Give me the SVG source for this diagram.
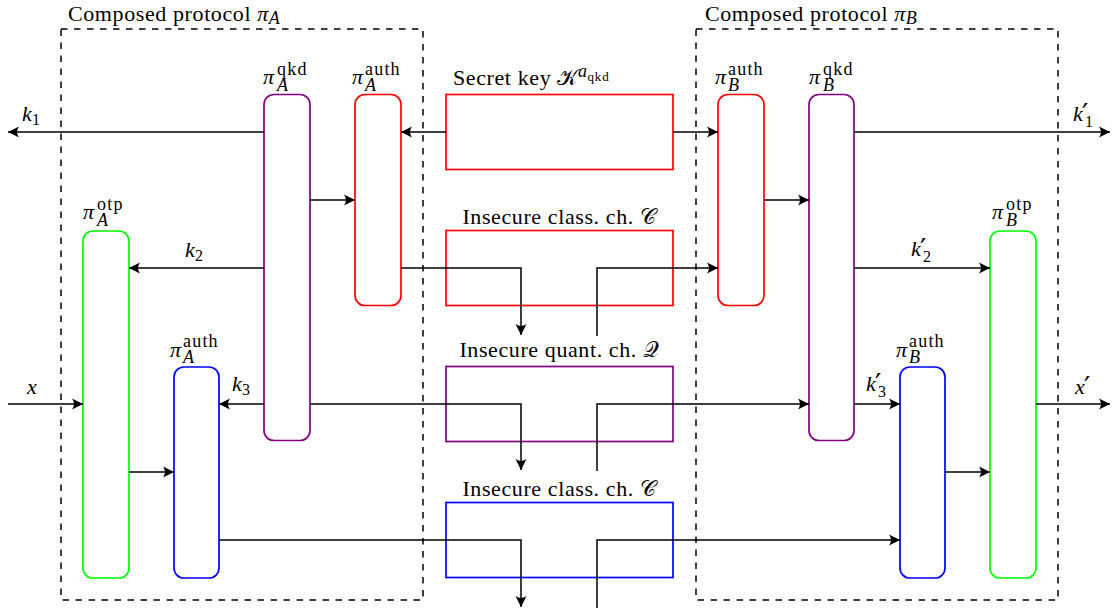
<svg xmlns="http://www.w3.org/2000/svg" width="1112" height="610" viewBox="0 0 1112 610">
<defs>
<style>
text { font-family: "Liberation Serif", "Times New Roman", serif; font-size: 22px; fill: #000; }
.lb { letter-spacing: 0.6px; }
.it { font-style: italic; }
.sc { font-size: 18px; letter-spacing: 1.2px; }
.sa { font-size: 18px; }
.ss { font-size: 16px; }
.pr { font-family: "DejaVu Sans", sans-serif; font-size: 28px; }
.conn { fill: none; stroke: #000; stroke-width: 1.5; }
.dash { fill: none; stroke: #000; stroke-width: 1.5; stroke-dasharray: 6.5 6.5; }
.node { fill: none; stroke-width: 1.7; }
.red { stroke: #ff0000; }
.pur { stroke: #800080; }
.grn { stroke: #00ff00; }
.blu { stroke: #0000ff; }
</style>
<marker id="arr" markerUnits="userSpaceOnUse" markerWidth="14" markerHeight="14" viewBox="-12 -7 13 14" refX="0" refY="0" orient="auto">
<path d="M0,0 L-11,-5.5 Q-7,0 -11,5.5 Z" fill="#000"/>
</marker>
</defs>
<rect width="1112" height="610" fill="#fff"/>

<g id="protocolA">
<rect class="dash" x="61" y="29" width="362" height="571"/>
<text class="lb" x="68" y="21">Composed protocol <tspan class="it">π</tspan><tspan class="it sa" dy="3">A</tspan></text>
</g>
<g id="protocolB">
<rect class="dash" x="696" y="29" width="362" height="571"/>
<text class="lb" x="705" y="21">Composed protocol <tspan class="it">π</tspan><tspan class="it sa" dy="3">B</tspan></text>
</g>

<g id="qkdA">
<rect class="node pur" x="264" y="94.5" width="46" height="346" rx="10"/>
<text class="it" x="263" y="84">π</text><text class="sc" x="277" y="74.5">qkd</text><text class="it sa" x="277" y="90.5">A</text>
</g>
<g id="authA1">
<rect class="node red" x="355" y="94.5" width="46" height="211" rx="10"/>
<text class="it" x="352" y="84">π</text><text class="sc" x="365" y="74.5">auth</text><text class="it sa" x="365" y="90.5">A</text>
</g>
<g id="otpA">
<rect class="node grn" x="83" y="231" width="46" height="347" rx="10"/>
<text class="it" x="83" y="219">π</text><text class="sc" x="97" y="210">otp</text><text class="it sa" x="97" y="226">A</text>
</g>
<g id="authA2">
<rect class="node blu" x="174" y="367" width="45" height="211" rx="10"/>
<text class="it" x="170" y="356.5">π</text><text class="sc" x="183" y="347">auth</text><text class="it sa" x="183" y="363">A</text>
</g>

<g id="authB1">
<rect class="node red" x="718" y="94.5" width="46" height="211" rx="10"/>
<text class="it" x="715" y="84">π</text><text class="sc" x="728" y="74.5">auth</text><text class="it sa" x="728" y="90.5">B</text>
</g>
<g id="qkdB">
<rect class="node pur" x="809" y="94.5" width="45" height="346" rx="10"/>
<text class="it" x="809" y="84">π</text><text class="sc" x="823" y="74.5">qkd</text><text class="it sa" x="823" y="90.5">B</text>
</g>
<g id="otpB">
<rect class="node grn" x="990" y="231" width="46" height="347" rx="10"/>
<text class="it" x="992" y="219">π</text><text class="sc" x="1006" y="210">otp</text><text class="it sa" x="1006" y="226">B</text>
</g>
<g id="authB2">
<rect class="node blu" x="900" y="367" width="45" height="211" rx="10"/>
<text class="it" x="896" y="356.5">π</text><text class="sc" x="909" y="347">auth</text><text class="it sa" x="909" y="363">B</text>
</g>

<g id="secretKey">
<rect class="node red" x="446" y="94.5" width="227" height="75"/>
<text class="lb" x="453" y="85">Secret key 𝒦<tspan class="it sa" dy="-8">a</tspan><tspan font-size="13" letter-spacing="0.8" dy="4">qkd</tspan></text>
</g>
<g id="classCh1">
<rect class="node red" x="446" y="230.5" width="227" height="75"/>
<text class="lb" x="559.5" y="224" text-anchor="middle">Insecure class. ch. 𝒞</text>
</g>
<g id="quantCh">
<rect class="node pur" x="446" y="366.5" width="227" height="75"/>
<text class="lb" x="559.5" y="357" text-anchor="middle">Insecure quant. ch. 𝒬</text>
</g>
<g id="classCh2">
<rect class="node blu" x="446" y="502.5" width="227" height="75"/>
<text class="lb" x="559.5" y="496" text-anchor="middle">Insecure class. ch. 𝒞</text>
</g>

<g id="connectors">
<path class="conn" d="M264 132 H8" marker-end="url(#arr)"/>
<path class="conn" d="M446 132 H401" marker-end="url(#arr)"/>
<path class="conn" d="M673 132 H718" marker-end="url(#arr)"/>
<path class="conn" d="M854 132 H1110" marker-end="url(#arr)"/>
<path class="conn" d="M310 200 H355" marker-end="url(#arr)"/>
<path class="conn" d="M764 200 H809" marker-end="url(#arr)"/>
<path class="conn" d="M264 268 H129" marker-end="url(#arr)"/>
<path class="conn" d="M401 268 H521 V335" marker-end="url(#arr)"/>
<path class="conn" d="M597 336 V268 H718" marker-end="url(#arr)"/>
<path class="conn" d="M854 268 H990" marker-end="url(#arr)"/>
<path class="conn" d="M264 404 H219" marker-end="url(#arr)"/>
<path class="conn" d="M310 404 H521 V470" marker-end="url(#arr)"/>
<path class="conn" d="M597 471 V404 H809" marker-end="url(#arr)"/>
<path class="conn" d="M854 404 H900" marker-end="url(#arr)"/>
<path class="conn" d="M8 404 H83" marker-end="url(#arr)"/>
<path class="conn" d="M1036 404 H1110" marker-end="url(#arr)"/>
<path class="conn" d="M129 472 H174" marker-end="url(#arr)"/>
<path class="conn" d="M945 472 H990" marker-end="url(#arr)"/>
<path class="conn" d="M219 540 H521 V607" marker-end="url(#arr)"/>
<path class="conn" d="M597 608 V540 H900" marker-end="url(#arr)"/>
</g>

<g id="edgeLabels">
<text class="it" x="22" y="121">k</text><text class="ss" x="32" y="125">1</text>
<text class="it" x="1073" y="121">k</text><text class="pr" x="1082" y="124">′</text><text class="ss" x="1085" y="127">1</text>
<text class="it" x="185" y="257">k</text><text class="ss" x="195" y="261">2</text>
<text class="it" x="911" y="256">k</text><text class="pr" x="920" y="259">′</text><text class="ss" x="923" y="262">2</text>
<text class="it" x="232" y="391">k</text><text class="ss" x="242" y="395">3</text>
<text class="it" x="866" y="391">k</text><text class="pr" x="875" y="394">′</text><text class="ss" x="878" y="397">3</text>
<text class="it" x="27" y="394">x</text>
<text class="it" x="1075" y="394">x</text><text class="pr" x="1084" y="397">′</text>
</g>
</svg>
